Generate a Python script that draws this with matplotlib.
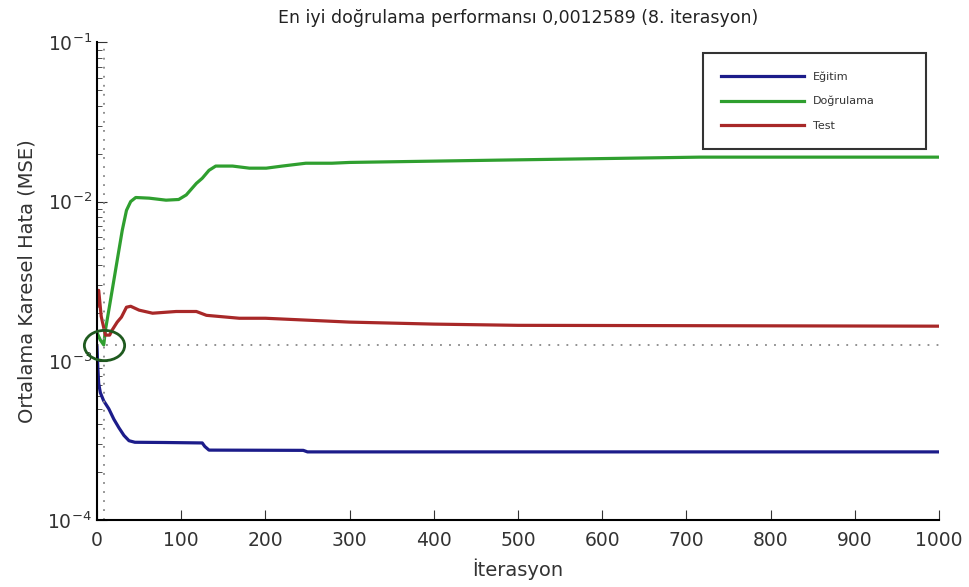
import matplotlib
matplotlib.use("Agg")
import matplotlib.pyplot as plt
from matplotlib.path import Path
from matplotlib.transforms import Affine2D

# values (iteration, MSE)
egitim_it = [0, 1, 2, 4, 8, 14, 20, 26, 32, 38, 45, 80, 125, 128, 133, 245, 250, 1000]
egitim_mse = [1.22e-3, 9.0e-4, 7.2e-4, 6.3e-4, 5.6e-4, 5.0e-4, 4.3e-4, 3.8e-4, 3.4e-4,
              3.15e-4, 3.08e-4, 3.07e-4, 3.05e-4, 2.9e-4, 2.75e-4, 2.74e-4, 2.68e-4, 2.68e-4]

dogrulama_it = [0, 4, 8, 10, 15, 20, 25, 30, 35, 40, 46, 62, 82, 97, 106, 118, 125, 133,
                141, 161, 181, 201, 220, 248, 279, 300, 478, 716, 1000]
dogrulama_mse = [1.5e-3, 1.35e-3, 1.2589e-3, 1.56e-3, 2.23e-3, 3.2e-3, 4.6e-3, 6.6e-3, 8.8e-3,
                 1.0e-2, 1.06e-2, 1.05e-2, 1.02e-2, 1.03e-2, 1.1e-2, 1.3e-2, 1.4e-2, 1.57e-2,
                 1.67e-2, 1.67e-2, 1.62e-2, 1.62e-2, 1.67e-2, 1.74e-2, 1.74e-2, 1.76e-2,
                 1.82e-2, 1.9e-2, 1.9e-2]

test_it = [0, 2, 5, 10, 15, 18, 24, 29, 35, 40, 50, 66, 94, 118, 130, 169, 200, 300, 400,
           500, 1000]
test_mse = [2.2e-3, 2.77e-3, 1.9e-3, 1.45e-3, 1.45e-3, 1.56e-3, 1.75e-3, 1.88e-3, 2.17e-3,
            2.2e-3, 2.08e-3, 1.99e-3, 2.04e-3, 2.04e-3, 1.93e-3, 1.85e-3, 1.85e-3, 1.75e-3,
            1.70e-3, 1.67e-3, 1.65e-3]

best_it = 8
best_mse = 0.0012589

fig = plt.figure(figsize=(9.7, 5.87), dpi=100)
ax = fig.add_axes([0.1, 0.114, 0.868, 0.814])

ax.plot(egitim_it, egitim_mse, color="#1c1c8a", linewidth=2.3, label="Eğitim")
ax.plot(dogrulama_it, dogrulama_mse, color="#2f9f2f", linewidth=2.3, label="Doğrulama")
ax.plot(test_it, test_mse, color="#a82828", linewidth=2.3, label="Test")

# best validation marks
ax.plot([0, 1000], [best_mse, best_mse], color="#888888", linestyle=(0, (1, 4)), linewidth=1.3)
ax.plot([best_it, best_it], [1e-4, 1e-1], color="#888888", linestyle=(0, (1, 4)), linewidth=1.3)
ellipse = Path.unit_circle().transformed(Affine2D().scale(1.0, 0.75))
ax.plot([best_it], [best_mse], marker=ellipse, markersize=29, markerfacecolor="none",
        markeredgecolor="#1f5a1f", markeredgewidth=2.0, linestyle="none", clip_on=False,
        zorder=5)

ax.set_yscale("log")
ax.set_xlim(0, 1000)
ax.set_ylim(1e-4, 1e-1)
ax.set_xticks(range(0, 1001, 100))

for side in ("top", "right"):
    ax.spines[side].set_visible(False)
ax.spines["left"].set_linewidth(1.5)
ax.spines["bottom"].set_linewidth(1.5)
ax.tick_params(which="both", direction="in", colors="#333333", labelsize=13.5)
ax.tick_params(which="major", length=7)
ax.tick_params(which="minor", length=3.5)
ax.tick_params(axis="x", pad=8)

ax.set_xlabel("İterasyon", fontsize=14, color="#333333", labelpad=6)
ax.set_ylabel("Ortalama Karesel Hata (MSE)", fontsize=14, color="#333333", labelpad=8)
ax.set_title("En iyi doğrulama performansı 0,0012589 (8. iterasyon)", fontsize=12.5,
             color="#222222", pad=14)

leg = ax.legend(loc="upper left", bbox_to_anchor=(0.72, 0.5, 0.265, 0.477), mode="expand",
                borderaxespad=0, fontsize=8, handlelength=7.5, labelspacing=1.3,
                borderpad=1.6, fancybox=False, framealpha=1, edgecolor="#333333")
leg.get_frame().set_linewidth(1.5)
for t in leg.get_texts():
    t.set_color("#333333")

fig.savefig("out.png", dpi=100)
